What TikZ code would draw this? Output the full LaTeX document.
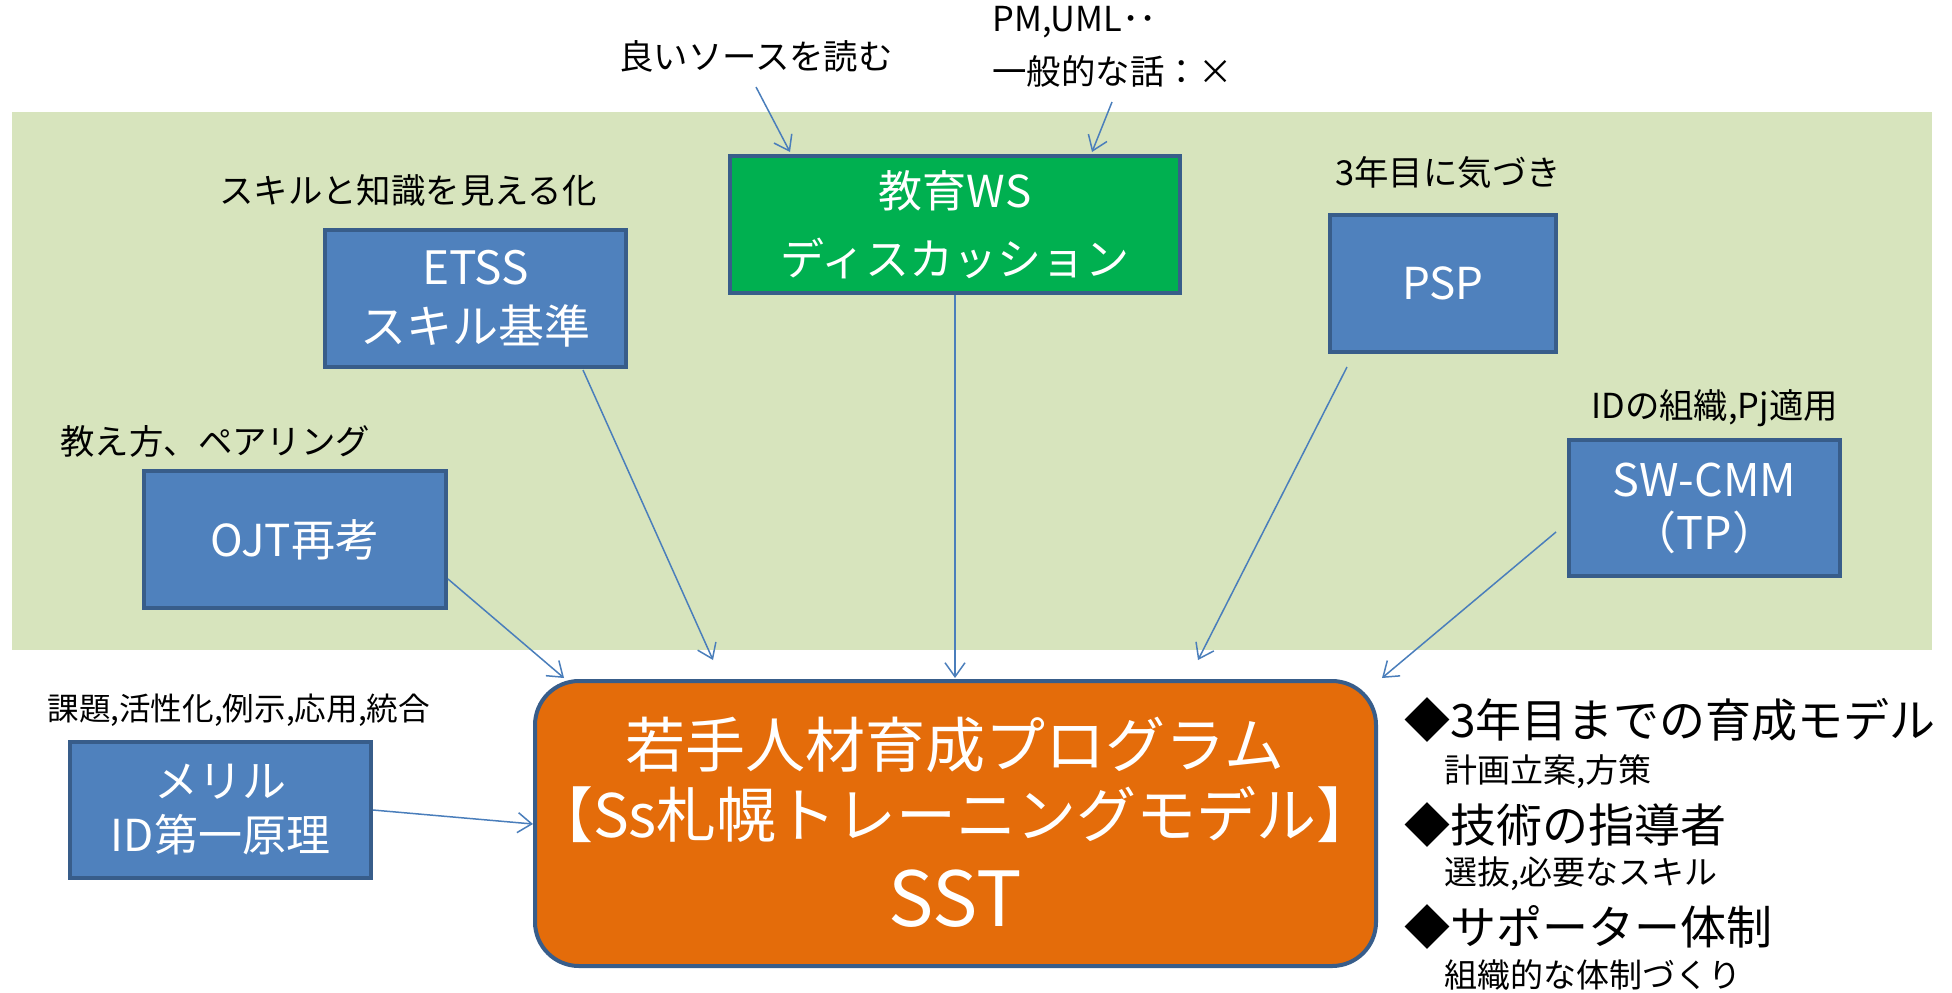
\documentclass[tikz,border=0pt]{standalone}
\usepackage{fontspec}
\setmainfont{Noto Sans CJK JP}
\usetikzlibrary{arrows.meta}
\definecolor{bg}{HTML}{D7E4BD}
\definecolor{boxblue}{HTML}{4F81BD}
\definecolor{edgeblue}{HTML}{385D8A}
\definecolor{wsgreen}{HTML}{00B050}
\definecolor{orng}{HTML}{E46C0A}
\definecolor{arrowblue}{HTML}{4A7EBB}
\begin{document}
\begin{tikzpicture}[x=0.5pt,y=-0.5pt,
  bluebox/.style={draw=edgeblue, line width=2pt, fill=boxblue, text=white, align=center, inner sep=0pt, font=\fontsize{22}{29.5}\selectfont},
  note/.style={font=\fontsize{17.2}{20}\selectfont, inner sep=0pt},
  bignote/.style={font=\fontsize{23}{26}\selectfont, inner sep=0pt, anchor=west},
  subnote/.style={font=\fontsize{16.5}{20}\selectfont, inner sep=0pt, anchor=west},
  conn/.style={draw=arrowblue, line width=0.75pt, -{Straight Barb[length=7pt,width=10pt]}},
  ]
\useasboundingbox (0,0) rectangle (1952,992);
\fill[white] (0,0) rectangle (1952,992);
\fill[bg] (12,112) rectangle (1932,650);

% boxes
\node[bluebox, minimum width=150.5pt, minimum height=68.5pt, font=\fontsize{23}{29.5}\selectfont] (etss) at (475.5,298.5) {ETSS\\スキル基準};
\node[bluebox, fill=wsgreen, minimum width=225pt, minimum height=68.5pt, font=\fontsize{22}{34}\selectfont] (ws) at (955,224.5) {教育WS\\ディスカッション};
\node[bluebox, minimum width=113pt, minimum height=68.5pt] (psp) at (1443,283.5) {PSP};
\node[bluebox, minimum width=151pt, minimum height=68.5pt] (ojt) at (295,539.5) {OJT再考};
\node[bluebox, minimum width=135.5pt, minimum height=68pt, font=\fontsize{22.5}{26.5}\selectfont] (cmm) at (1704.5,508) {SW-CMM\\（TP）};
\node[bluebox, minimum width=150.5pt, minimum height=68pt, font=\fontsize{22}{27}\selectfont] (merrill) at (220.5,810) {メリル\\ID第一原理};
\node[draw=edgeblue, line width=2pt, fill=orng, rounded corners=22pt, minimum width=420.5pt, minimum height=142.5pt] (prog) at (955.5,823.5) {};

% texts in program box
\node[text=white, inner sep=0pt, font=\fontsize{30}{34}\selectfont] (t1) at (955,745) {若手人材育成プログラム};
\node[text=white, inner sep=0pt, font=\fontsize{30}{34}\selectfont] (t2) at (955,814) {【Ss札幌トレーニングモデル】};
\node[text=white, inner sep=0pt, font=\fontsize{38}{42}\selectfont] (t3) at (955,899) {SST};

% labels
\node[note] (lsrc) at (756,56) {良いソースを読む};
\node[note, anchor=west] (lpm1) at (992,22) {PM,UML･･};
\node[note, anchor=west] (lpm2) at (992,71) {一般的な話：×};
\node[note] (letss) at (408,190) {スキルと知識を見える化};
\node[note, anchor=west] (lojt) at (60,441) {教え方、ペアリング};
\node[note, anchor=west] (lpsp) at (1335,172) {3年目に気づき};
\node[note, anchor=west] (lcmm) at (1591,408) {IDの組織,Pj適用};
\node[note, anchor=west, font=\fontsize{15.8}{20}\selectfont] (lmer) at (47,710) {課題,活性化,例示,応用,統合};

% right list
\node[bignote] (r1) at (1404,720) {◆3年目までの育成モデル};
\node[subnote] (r1s) at (1444,772) {計画立案,方策};
\node[bignote] (r2) at (1404,825) {◆技術の指導者};
\node[subnote] (r2s) at (1444,874) {選抜,必要なスキル};
\node[bignote] (r3) at (1404,927) {◆サポーター体制};
\node[subnote] (r3s) at (1444,975) {組織的な体制づくり};

% connector end points
\coordinate (a1s) at (756,87);   \coordinate (a1e) at (790,152);
\coordinate (a2s) at (1112,102); \coordinate (a2e) at (1092,152);
\coordinate (a3e) at (955,678);
\coordinate (a4s) at (583,370);  \coordinate (a4e) at (713,660);
\coordinate (a5s) at (448,579);  \coordinate (a5e) at (564,678);
\coordinate (a6s) at (1347,367); \coordinate (a6e) at (1198,660);
\coordinate (a7s) at (1556,532); \coordinate (a7e) at (1382,678);
\coordinate (a8e) at (533,824);

\draw[conn] (a1s) -- (a1e);
\draw[conn] (a2s) -- (a2e);
\draw[conn] (ws.south) -- (a3e);
\draw[conn] (a4s) -- (a4e);
\draw[conn] (a5s) -- (a5e);
\draw[conn] (a6s) -- (a6e);
\draw[conn] (a7s) -- (a7e);
\draw[conn] (merrill.east) -- (a8e);
\end{tikzpicture}
\end{document}
